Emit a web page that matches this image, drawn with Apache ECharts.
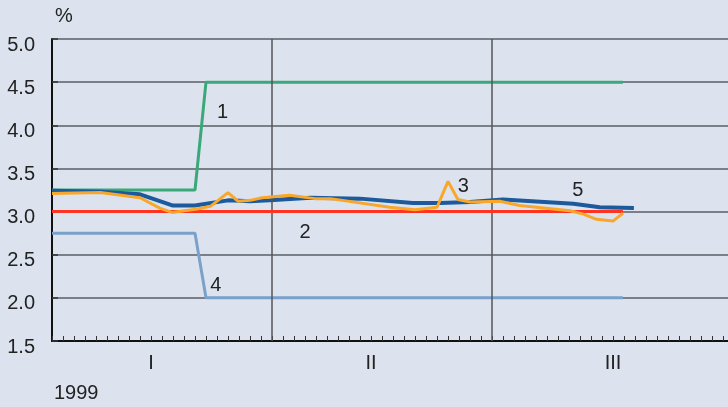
<!DOCTYPE html>
<html><head><meta charset="utf-8">
<script src="https://cdn.jsdelivr.net/npm/echarts@6/dist/echarts.min.js"></script>
<style>html,body{margin:0;padding:0;background:#dce3ef;}#c{width:728px;height:407px;}</style>
</head><body><div id="c"></div>
<script>
// x positions in axis-tick units (20 ticks per quarter), y in %
const quarterLabels = {9: 'I', 29: 'II', 51: 'III'};
const quarterBounds = [20, 40];
const series1 = [[0,3.25],[13,3.25],[14,4.5],[51.9,4.5]];
const series2 = [[0,3.0],[51.9,3.0]];
const series3 = [[0,3.21],[4.4,3.22],[8,3.16],[9.8,3.04],[10.9,2.99],[13.2,3.03],[14.4,3.06],[16,3.22],[16.9,3.12],[18,3.13],[19.1,3.16],[21.6,3.19],[23.9,3.15],[25.3,3.15],[30.7,3.05],[33,3.02],[35,3.05],[36,3.35],[36.9,3.14],[38,3.11],[40.7,3.12],[42.5,3.07],[47.1,3.01],[48.3,2.97],[49.5,2.91],[51,2.89],[51.9,2.98]];
const series4 = [[0,2.75],[13,2.75],[14,2.0],[51.9,2.0]];
const series5 = [[0,3.24],[4.4,3.23],[8,3.20],[11,3.07],[13,3.07],[16,3.13],[18,3.12],[19.8,3.13],[23.5,3.16],[28,3.15],[32.8,3.10],[35.3,3.10],[38,3.11],[41,3.14],[47.4,3.09],[49.8,3.05],[52.9,3.04]];
const seriesLabels = [
  {name:'1', coord:[15.5,4.15]},
  {name:'2', coord:[23,2.76]},
  {name:'3', coord:[37.4,3.29]},
  {name:'4', coord:[14.9,2.14]},
  {name:'5', coord:[47.8,3.24]}
];
const yMin = 1.5, yMax = 5.0, yStep = 0.5;

const font = 'Liberation Sans, Arial, sans-serif';
const chart = echarts.init(document.getElementById('c'), null, {renderer:'canvas'});
function lbl(item){
  return {name:item.name, coord:item.coord, symbol:'circle', symbolSize:0,
    label:{show:true, formatter:item.name, position:'inside', fontSize:20, color:'#222', fontFamily:font}};
}
function line(data, color, width, z){
  return {type:'line', data:data, symbol:'none', lineStyle:{color:color, width:width}, z:z, animation:false, silent:true};
}
const s1 = line(series1, '#3aa878', 3, 3);
const s2 = line(series2, '#ff3322', 3, 5);
const s3 = line(series3, '#f9a72b', 3, 6);
const s4 = line(series4, '#79a1c9', 3, 3);
const s5 = line(series5, '#1c5a9c', 4, 4);
s2.markLine = {silent:true, symbol:'none', animation:false, label:{show:false},
  lineStyle:{color:'#555', width:1.5, type:'solid'},
  data: quarterBounds.map(v=>({xAxis:v}))};
s3.markPoint = {silent:true, animation:false, data: seriesLabels.map(lbl)};

chart.setOption({
  backgroundColor:'#dce3ef',
  animation:false,
  grid:{left:52, top:39, right:0, bottom:66, containLabel:false},
  xAxis:{type:'value', min:0, max:676/11, interval:1,
    axisLine:{show:true, onZero:false, lineStyle:{color:'#111', width:2}},
    axisTick:{show:true, inside:true, length:5, lineStyle:{color:'#333', width:1}},
    splitLine:{show:false},
    axisLabel:{show:true, interval:0, showMinLabel:true, showMaxLabel:false, margin:12, fontSize:20, color:'#222', fontFamily:font,
      formatter:function(v){ return quarterLabels[Math.round(v)] && Math.abs(v-Math.round(v))<1e-6 ? quarterLabels[Math.round(v)] : ''; }}
  },
  yAxis:{type:'value', min:yMin, max:yMax, interval:yStep,
    axisLine:{show:true, lineStyle:{color:'#111', width:2}},
    axisTick:{show:true, inside:true, length:6, lineStyle:{color:'#333', width:1.5}},
    splitLine:{show:true, lineStyle:{color:'#5a5e66', width:1.5}},
    axisLabel:{margin:17, fontSize:20, color:'#222', fontFamily:font,
      formatter:function(v){return '{a|' + v.toFixed(1) + '}';},
      rich:{a:{fontSize:20, color:'#222', fontFamily:font, padding:[12,0,0,0]}}
    }
  },
  graphic:[
    {type:'text', left:55, top:6, style:{text:'%', fontSize:20, fill:'#222', fontFamily:font}},
    {type:'text', left:54, top:383, style:{text:'1999', fontSize:20, fill:'#222', fontFamily:font}}
  ],
  series:[s1, s4, s5, s2, s3]
});
</script></body></html>
